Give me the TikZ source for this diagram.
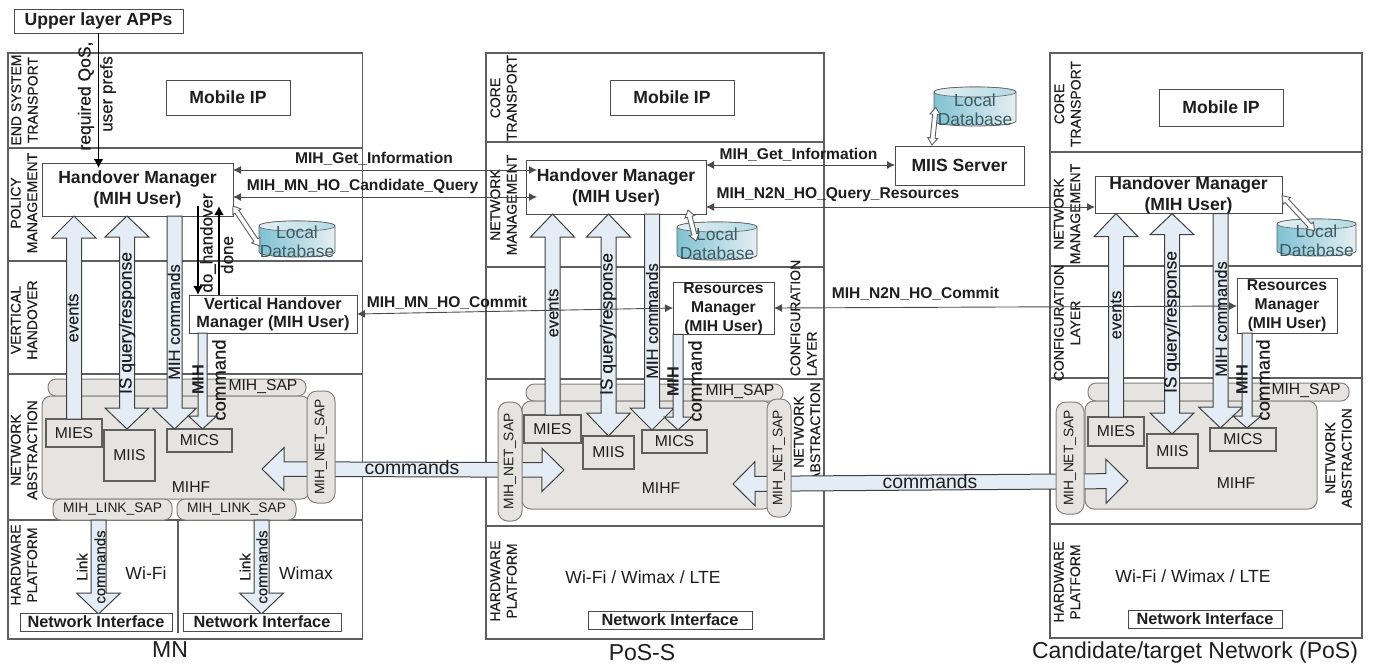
\documentclass[tikz,border=0pt]{standalone}
\usepackage{fontspec}
\setmainfont{Liberation Sans}
\newfontfamily\medfont[FakeBold=0.35]{Liberation Sans}
\usetikzlibrary{calc,arrows.meta}
\definecolor{blockfill}{HTML}{E4ECF6}
\definecolor{sapfill}{HTML}{E6E4E1}
\definecolor{sapline}{HTML}{85817C}
\definecolor{panelline}{HTML}{5F5F5F}
\definecolor{ink}{HTML}{1E1E1E}
\definecolor{dbdark}{HTML}{7FC1D2}
\definecolor{dblight}{HTML}{E6EFF3}
\definecolor{dbtextc}{HTML}{3E5A62}
\tikzset{
  x=1pt,y=-1pt,
  every node/.style={inner sep=0pt,outer sep=0pt,text=ink},
  panel/.style={draw=panelline,line width=1.2pt},
  layerline/.style={draw=panelline,line width=1.2pt},
  whitebox/.style={draw=ink!80,fill=white,line width=1pt,align=center},
  greybox/.style={draw=panelline,fill=none,line width=1.1pt,align=center,font=\fontsize{15.7}{18}\selectfont},
  sap/.style={draw=sapline,fill=sapfill,line width=1pt,rounded corners=8pt},
  sapv/.style={draw=sapline,fill=sapfill,line width=1pt,rounded corners=10pt},
  mihf/.style={draw=sapline,fill=sapfill,line width=1pt,rounded corners=9pt},
  blockstyle/.style={draw=ink!85,fill=blockfill,line width=1pt,line join=miter},
  hollow/.style={draw=panelline,fill=white,line width=.9pt},
  thinarrow/.style={draw=ink!80,line width=.9pt,{Latex[length=8pt,width=8pt]}-{Latex[length=8pt,width=8pt]}},
  thickarrow/.style={draw=black,line width=1.8pt,-{Latex[length=9pt,width=10pt]}},
  layertxt/.style={rotate=90,align=center,font=\medfont\fontsize{14}{16.5}\selectfont},
  msgtxt/.style={font=\bfseries\fontsize{15.6}{18}\selectfont},
  bigbold/.style={font=\bfseries\fontsize{17.6}{21}\selectfont},
  nitxt/.style={font=\bfseries\fontsize{16.3}{18}\selectfont},
  rmtxt/.style={font=\bfseries\fontsize{15.7}{18.8}\selectfont},
  plain/.style={font=\fontsize{17.6}{20}\selectfont},
  captxt/.style={font=\fontsize{23}{26}\selectfont},
  vreg/.style={rotate=90,font=\medfont\fontsize{17.5}{20}\selectfont},
  vreglow/.style={rotate=90,font=\medfont\fontsize{17}{20}\selectfont},
  vmid/.style={rotate=90,font=\medfont\fontsize{16.5}{20}\selectfont},
  vcmd/.style={rotate=90,font=\medfont\fontsize{18.5}{20}\selectfont},
  vbold/.style={rotate=90,font=\bfseries\fontsize{16.3}{20}\selectfont},
  vsmall/.style={rotate=90,font=\medfont\fontsize{15}{17}\selectfont},
  saptxt/.style={font=\fontsize{15.7}{18}\selectfont},
  sapsmall/.style={font=\fontsize{13.8}{16}\selectfont},
  dbtxt/.style={align=center,text=dbtextc,font=\fontsize{17.4}{19}\selectfont},
  dbbody/.style={draw=panelline,line width=.8pt,left color=dbdark,right color=dblight},
  dbtop/.style={draw=panelline,line width=.6pt,left color=dblight,right color=dbdark!60},
  cmdtxt/.style={font=\fontsize{19.4}{22}\selectfont},
}
% box from corners: name, x1, y1, x2, y2, style, text
\newcommand\boxat[7]{%
  \pgfmathsetmacro\bw{#4-#2}\pgfmathsetmacro\bh{#5-#3}%
  \pgfmathsetmacro\bx{(#2+#4)/2}\pgfmathsetmacro\by{(#3+#5)/2}%
  \node[#6,minimum width=\bw pt,minimum height=\bh pt] (#1) at (\bx,\by) {#7};}
% single-headed block arrow: start, tip, head length, head half width, shaft half width
\newcommand\blockone[5]{%
  \coordinate (bA) at #1; \coordinate (bB) at #2;
  \coordinate (bN) at ($(bB)!#3pt!(bA)$);
  \draw[blockstyle] ($(bA)!#5pt!90:(bB)$) -- ($(bN)!#5pt!90:(bB)$) -- ($(bN)!#4pt!90:(bB)$) -- (bB)
    -- ($(bN)!#4pt!-90:(bB)$) -- ($(bN)!#5pt!-90:(bB)$) -- ($(bA)!#5pt!-90:(bB)$) -- cycle;}
% two-headed block arrow
\newcommand\blocktwo[6][blockstyle]{%
  \coordinate (bA) at #2; \coordinate (bB) at #3;
  \coordinate (bN) at ($(bB)!#4pt!(bA)$);
  \coordinate (bM) at ($(bA)!#4pt!(bB)$);
  \draw[#1] (bA) -- ($(bM)!#5pt!-90:(bB)$) -- ($(bM)!#6pt!-90:(bB)$) -- ($(bN)!#6pt!90:(bA)$) -- ($(bN)!#5pt!90:(bA)$) -- (bB)
    -- ($(bN)!#5pt!-90:(bA)$) -- ($(bN)!#6pt!-90:(bA)$) -- ($(bM)!#6pt!90:(bB)$) -- ($(bM)!#5pt!90:(bB)$) -- cycle;}
% database cylinder
\newcommand\dbat[5]{%
  \pgfmathsetmacro\dt{#3+5}\pgfmathsetmacro\db{#5-5}%
  \pgfmathsetmacro\dtu{#3-1.67}\pgfmathsetmacro\dtd{#3+11.67}\pgfmathsetmacro\dbd{#5+1.67}%
  \path[dbbody] (#2,\dt) -- (#2,\db) .. controls (#2,\dbd) and (#4,\dbd) .. (#4,\db) -- (#4,\dt)
     .. controls (#4,\dtu) and (#2,\dtu) .. (#2,\dt) -- cycle;
  \path[dbtop] (#2,\dt) .. controls (#2,\dtu) and (#4,\dtu) .. (#4,\dt) .. controls (#4,\dtd) and (#2,\dtd) .. (#2,\dt) -- cycle;
  \pgfmathsetmacro\dx{(#2+#4)/2}\pgfmathsetmacro\dy{(#3+#5)/2+3}%
  \node[dbtxt] (#1) at (\dx,\dy) {Local\\Database};}
\begin{document}
\begin{tikzpicture}
\useasboundingbox (0,0) rectangle (1375,667);
\fill[white] (0,0) rectangle (1375,667);

% ---------- panels
\boxat{panelA}{8}{53}{362.5}{639}{panel}{}
\boxat{panelB}{486}{53}{824}{639}{panel}{}
\boxat{panelC}{1050}{53}{1362}{638}{panel}{}
\foreach \y in {148,261,374,520}{\draw[layerline] (panelA.west |- 0,\y) -- (panelA.east |- 0,\y);}
\foreach \y in {142,267,379,526}{\draw[layerline] (panelB.west |- 0,\y) -- (panelB.east |- 0,\y);}
\foreach \y in {152,266,378,524}{\draw[layerline] (panelC.west |- 0,\y) -- (panelC.east |- 0,\y);}
\draw[layerline] (178,520) -- (178,633);

% ---------- layer labels
\node[layertxt] (la1) at (24.5,100) {END SYSTEM\\TRANSPORT};
\node[layertxt] (la2) at (24,203) {POLICY\\MANAGEMENT};
\node[layertxt] (la3) at (24,320) {VERTICAL\\HANDOVER};
\node[layertxt] (la4) at (24,450) {NETWORK\\ABSTRACTION};
\node[layertxt] (la5) at (24,565) {HARDWARE\\PLATFORM};
\node[layertxt] (lb1) at (503.5,98) {CORE\\TRANSPORT};
\node[layertxt] (lb2) at (503.5,205) {NETWORK\\MANAGEMENT};
\node[layertxt] (lb3) at (503.5,581) {HARDWARE\\PLATFORM};
\node[layertxt,align=left] (lb4) at (803.5,318) {CONFIGURATION\\LAYER};
\node[layertxt] (lb5) at (807,432) {NETWORK\\ABSTRACTION};
\node[layertxt] (lc1) at (1067.5,104) {CORE\\TRANSPORT};
\node[layertxt] (lc2) at (1067,214) {NETWORK\\MANAGEMENT};
\node[layertxt] (lc3) at (1067,323) {CONFIGURATION\\LAYER};
\node[layertxt] (lc4) at (1338.5,458) {NETWORK\\ABSTRACTION};
\node[layertxt] (lc5) at (1067,582) {HARDWARE\\PLATFORM};

% ---------- MIHF blocks and SAPs
\boxat{sapA}{48}{379}{306}{396}{sap}{}
\boxat{mihfA}{42}{396}{310}{499}{mihf}{}
\boxat{linkA}{53}{499}{172}{520}{sap}{}
\boxat{linkB}{177}{499}{296}{520}{sap}{}
\boxat{sapB}{526}{384}{783}{401}{sap}{}
\boxat{mihfB}{522}{401}{772}{509}{mihf}{}
\boxat{sapC}{1088}{383}{1349}{401}{sap}{}
\boxat{mihfC}{1085}{401}{1317}{509}{mihf}{}

% ---------- main boxes
\boxat{apps}{14}{9}{183}{33}{whitebox,bigbold}{Upper layer APPs}
\boxat{ipA}{166}{80}{290}{115}{whitebox,bigbold}{Mobile IP}
\boxat{ipB}{610}{80}{734}{115}{whitebox,bigbold}{Mobile IP}
\boxat{ipC}{1159}{89}{1283}{126}{whitebox,bigbold}{Mobile IP}
\boxat{hmA}{42}{163}{233}{216}{whitebox,bigbold}{Handover Manager\\(MIH User)}
\boxat{hmB}{526}{160}{706}{214}{whitebox,bigbold}{Handover Manager\\(MIH User)}
\boxat{hmC}{1095}{177}{1282}{213}{whitebox,bigbold}{Handover Manager\\(MIH User)}
\boxat{vhm}{189}{295}{357}{333}{whitebox,nitxt}{Vertical Handover\\Manager (MIH User)}
\boxat{rmB}{673}{284}{774}{333}{whitebox,rmtxt}{Resources\\Manager\\(MIH User)}
\boxat{rmC}{1237}{278}{1337}{333}{whitebox,rmtxt}{Resources\\Manager\\(MIH User)}
\boxat{miis}{895}{146}{1024}{185}{whitebox,bigbold}{MIIS Server}

% ---------- databases
\dbat{dbA}{259}{221}{335}{257}
\dbat{dbB}{677}{222}{757}{260}
\dbat{dbS}{934}{87}{1016}{126}
\dbat{dbC}{1277}{219}{1356}{256}
\blocktwo[hollow]{($(hmA.south east)+(0,-10)$)}{($(dbA.west)+(0,4)$)}{7}{5}{2.4}
\blocktwo[hollow]{($(hmB.south east)+(-18,-4)$)}{($(dbB.north)+(-21,13)$)}{7}{5}{2.4}
\blocktwo[hollow]{($(miis.north west)+(37,-1)$)}{($(dbS.south west)+(-2,-18)$)}{7}{5}{2.4}
\blocktwo[hollow]{($(hmC.south east)+(0,-18)$)}{($(dbC.north)+(-2,6)$)}{7}{5}{2.4}

% ---------- small boxes
\boxat{miesA}{46}{419}{102}{447}{greybox}{MIES}
\boxat{miisA}{104}{430}{155}{481}{greybox}{MIIS}
\boxat{micsA}{167}{429}{232}{452}{greybox}{MICS}
\boxat{miesB}{524}{415}{581}{443}{greybox}{MIES}
\boxat{miisB}{583}{436}{634}{469}{greybox}{MIIS}
\boxat{micsB}{642}{430}{707}{453}{greybox}{MICS}
\boxat{miesC}{1088}{417}{1144}{446}{greybox}{MIES}
\boxat{miisC}{1147}{434}{1198}{468}{greybox}{MIIS}
\boxat{micsC}{1210}{428}{1276}{451}{greybox}{MICS}

% ---------- block arrows, panel A
\blockone{(miesA.north)}{(miesA.north |- hmA.south)}{22}{22}{7.5}
\blocktwo{(127,0 |- hmA.south)}{(127,0 |- micsA.north)}{21}{22}{7.5}
\blockone{(174.5,0 |- hmA.south)}{(174.5,0 |- micsA.north)}{21}{22}{7.5}
\blockone{(202.5,0 |- vhm.south)}{(202.5,0 |- micsA.north)}{13}{14}{4.5}
\blockone{(98.5,0 |- linkA.south)}{(98.5,614)}{21}{22}{7.5}
\blockone{(261.5,0 |- linkB.south)}{(261.5,614)}{21}{22}{7.5}
% panel B
\blockone{(miesB.north)}{(miesB.north |- hmB.south)}{23}{22}{7.5}
\blocktwo{(608.5,0 |- hmB.south)}{(608.5,0 |- miisB.north)}{23}{22}{7.5}
\blockone{(652,0 |- hmB.south)}{(652,0 |- micsB.north)}{22}{22}{7.5}
\blockone{(678,0 |- rmB.south)}{(678,0 |- micsB.north)}{13}{14}{5}
% panel C
\blockone{(miesC.north)}{(miesC.north |- hmC.south)}{23}{22}{7.5}
\blocktwo{(1172,0 |- hmC.south)}{(1172,0 |- miisC.north)}{21}{22}{7.5}
\blockone{(1220.5,0 |- hmC.south)}{(1220.5,0 |- micsC.north)}{21}{22}{7.5}
\blockone{(1247,0 |- rmC.south)}{(1247,0 |- micsC.north)}{12}{14}{5}
% horizontal commands
\coordinate (cmdAL) at (262,469);
\coordinate (cmdAR) at (564,470);
\coordinate (cmdBL) at (733,484);
\coordinate (cmdBR) at (1128,481);
\blocktwo{(cmdAL)}{(cmdAR)}{22}{21.5}{7.3}
\blocktwo{(cmdBL)}{(cmdBR)}{22}{22}{7.5}

% ---------- NET SAPs above the commands arrows
\boxat{netA}{307}{391}{335}{503}{sapv}{}
\boxat{netB}{498}{402}{522}{521}{sapv}{}
\boxat{netBr}{767}{399}{791}{517}{sapv}{}
\boxat{netC}{1056}{402}{1084}{514}{sapv}{}
\node[rotate=90,sapsmall] (tnA) at (netA) {MIH\_NET\_SAP};
\node[rotate=90,sapsmall] (tnB) at (netB) {MIH\_NET\_SAP};
\node[rotate=90,sapsmall] (tnBr) at (netBr) {MIH\_NET\_SAP};
\node[rotate=90,sapsmall] (tnC) at (netC) {MIH\_NET\_SAP};
\node[sapsmall] (tlA) at (linkA) {MIH\_LINK\_SAP};
\node[sapsmall] (tlB) at (linkB) {MIH\_LINK\_SAP};
\node[saptxt] (tsA) at (263,387) {MIH\_SAP};
\node[saptxt] (tsB) at (740,392) {MIH\_SAP};
\node[saptxt] (tsC) at (1306,391) {MIH\_SAP};
\node[saptxt] (tmA) at (191,487) {MIHF};
\node[saptxt] (tmB) at (661,488) {MIHF};
\node[saptxt] (tmC) at (1236,483) {MIHF};
\node[cmdtxt] (cmA) at (412,468) {commands};
\node[cmdtxt] (cmB) at (930,482) {commands};

% ---------- thin connectors
\draw[thinarrow] (hmA.east |- 0,170) -- ($(hmB.west |- 0,170)+(11,0)$);
\draw[thinarrow] (hmA.east |- 0,197) -- ($(hmB.west |- 0,197)+(11,0)$);
\draw[thinarrow] (vhm.east) -- (rmB.west |- 0,308);
\draw[thinarrow] (hmB.east |- 0,165) -- (miis.west |- 0,165);
\draw[thinarrow] (hmB.east |- 0,207) -- (hmC.west |- 0,207);
\draw[thinarrow] (rmB.east |- 0,308) -- (rmC.west |- 0,306);
\draw[thickarrow] (apps.south) -- ($(apps.south |- hmA.north)+(0,5)$);
\coordinate (doT) at (198,206);
\coordinate (dnT) at (219,206);
\draw[thickarrow] (doT) -- (doT |- vhm.north);
\draw[thickarrow] (dnT |- vhm.north) -- (dnT);

% ---------- connector labels
\node[msgtxt] (m1) at (374,159) {MIH\_Get\_Information};
\node[msgtxt] (m2) at (362.5,186) {MIH\_MN\_HO\_Candidate\_Query};
\node[msgtxt] (m3) at (447,303) {MIH\_MN\_HO\_Commit};
\node[msgtxt] (m4) at (798.5,155) {MIH\_Get\_Information};
\node[msgtxt] (m5) at (838,195) {MIH\_N2N\_HO\_Query\_Resources};
\node[msgtxt] (m6) at (915.5,294) {MIH\_N2N\_HO\_Commit};

\node[vreg] (qa) at (86,96) {required QoS,};
\node[vreglow] (qb) at (108,94) {user prefs};
\node[vreglow] (dh) at (208,243) {do\_handover};
\node[vreglow] (dd) at (227,255) {done};

% block arrow labels
\node[vmid] (e1) at (73,318) {events};
\node[vmid] (e2) at (553,313) {events};
\node[vmid] (e3) at (1116,315) {events};
\node[vreg] (i1) at (127,323) {IS query/response};
\node[vreg] (i2) at (608,324) {IS query/response};
\node[vreg] (i3) at (1172,322) {IS query/response};
\node[vmid] (c1) at (174,322) {MIH commands};
\node[vmid] (c2) at (652,321) {MIH commands};
\node[vmid] (c3) at (1221,319) {MIH commands};
\node[vbold] (h1) at (198,380) {MIH};
\node[vbold] (h2) at (673,382) {MIH};
\node[vbold] (h3) at (1242,380) {MIH};
\node[vcmd] (o1) at (219,380) {command};
\node[vcmd] (o2) at (695,381) {command};
\node[vcmd] (o3) at (1263,380) {command};
\node[vsmall] (l1) at (82,567) {Link};
\node[vsmall] (l2) at (245,567) {Link};
\node[vsmall] (k1) at (100,567) {commands};
\node[vsmall] (k2) at (262,567) {commands};

% ---------- hardware
\boxat{niA}{20}{613}{172}{631}{whitebox,nitxt}{Network Interface}
\boxat{niB}{183}{613}{341}{631}{whitebox,nitxt}{Network Interface}
\boxat{niC}{588}{611}{752}{629}{whitebox,nitxt}{Network Interface}
\boxat{niD}{1128}{610}{1282}{628}{whitebox,nitxt}{Network Interface}
\node[plain] (w1) at (146,573) {Wi-Fi};
\node[plain] (w2) at (306,573) {Wimax};
\node[plain] (w3) at (643,577) {Wi-Fi / Wimax / LTE};
\node[plain] (w4) at (1193,576) {Wi-Fi / Wimax / LTE};

% ---------- captions
\node[captxt] (capA) at (170,650) {MN};
\node[captxt] (capB) at (642,653) {PoS-S};
\node[captxt] (capC) at (1195,653) {Candidate/target Network (PoS)};
\end{tikzpicture}
\end{document}
